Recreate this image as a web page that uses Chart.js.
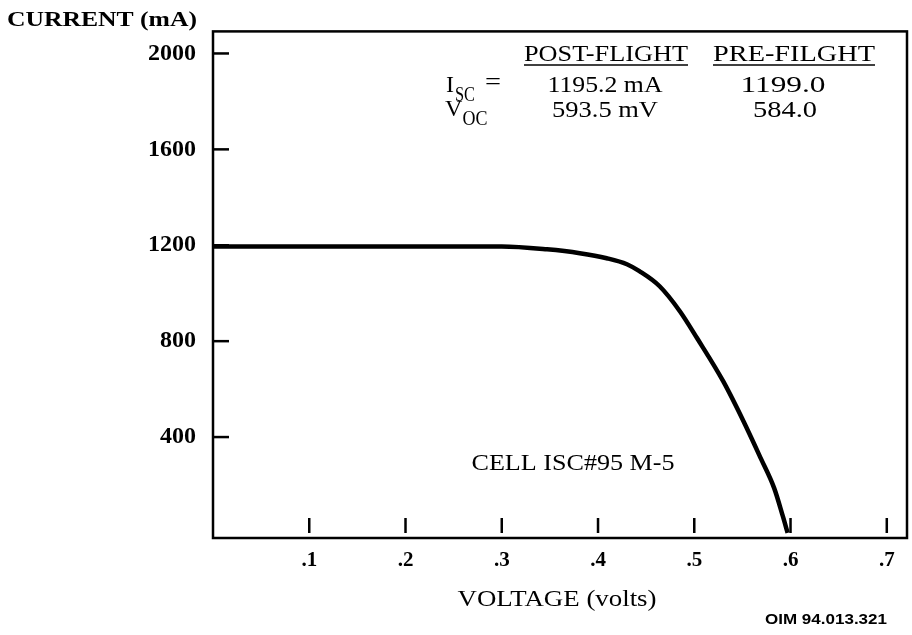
<!DOCTYPE html>
<html lang="en">
<head>
<meta charset="UTF-8">
<title>Cell ISC#95 M-5 I-V curve</title>
<script src="https://cdn.jsdelivr.net/npm/chart.js"></script>
<style>
  body { margin: 0; background: #fff; }
  canvas { display: block; }
</style>
</head>
<body>
<canvas id="ivChart" width="912" height="635"></canvas>
<script>
// data
var voltage = [0, 0.1, 0.2, 0.3, 0.347, 0.381, 0.409, 0.430, 0.443, 0.464, 0.485, 0.503, 0.530, 0.551, 0.569, 0.583, 0.592, 0.597];
var current = [1195, 1195, 1195, 1195, 1183, 1167, 1146, 1121, 1092, 1029, 925, 812, 633, 467, 312, 187, 70, 0];
var yTicks = [400, 800, 1200, 1600, 2000];
var xTicks = [0.1, 0.2, 0.3, 0.4, 0.5, 0.6, 0.7];
var tableHead = ['POST-FLIGHT', 'PRE-FILGHT'];
var iscRow = ['1195.2 mA', '1199.0'];
var vocRow = ['593.5 mV', '584.0'];

var serif = '"Liberation Serif", "DejaVu Serif", serif';

var points = voltage.map(function (v, i) { return { x: v, y: current[i] }; });

// draw text centred at cx, stretched/squeezed to a given width
function fitText(c, text, cx, cy, width) {
    var w = c.measureText(text).width;
    c.save();
    c.translate(cx, cy);
    c.scale(width / w, 1);
    c.textAlign = 'center';
    c.fillText(text, 0, 0);
    c.restore();
}

// box, inner tick marks and all free text
var decor = {
    id: 'decor',
    afterDraw: function (chart) {
        var c = chart.ctx, a = chart.chartArea;
        var xs = chart.scales.x, ys = chart.scales.y;
        c.save();
        c.strokeStyle = '#000';
        c.lineWidth = 2.5;
        c.strokeRect(a.left, a.top, a.right - a.left, a.bottom - a.top);

        yTicks.forEach(function (v) {
            var py = ys.getPixelForValue(v);
            c.beginPath(); c.moveTo(a.left, py); c.lineTo(a.left + 16, py); c.stroke();
        });
        xTicks.forEach(function (v) {
            var px = xs.getPixelForValue(v);
            c.beginPath(); c.moveTo(px, a.bottom - 20); c.lineTo(px, a.bottom - 5); c.stroke();
        });

        c.fillStyle = '#000';
        c.textBaseline = 'middle';

        c.font = 'bold 22px ' + serif;
        fitText(c, 'CURRENT (mA)', 102, 20, 190);

        // table
        c.font = '24px ' + serif;
        var heads = [[606, 164], [794, 162]];
        tableHead.forEach(function (t, i) {
            var cx = heads[i][0], w = heads[i][1];
            fitText(c, t, cx, 55, w);
            c.lineWidth = 1.4;
            c.beginPath(); c.moveTo(cx - w / 2, 65); c.lineTo(cx + w / 2, 65); c.stroke();
        });
        c.font = '23px ' + serif;
        fitText(c, iscRow[0], 605, 86, 115);
        fitText(c, iscRow[1], 783, 86, 85);
        fitText(c, vocRow[0], 605, 111, 106);
        fitText(c, vocRow[1], 785, 111, 64);

        c.textAlign = 'left';
        c.font = '24px ' + serif;
        c.fillText('I', 446, 86);
        c.fillText('V', 445, 110);
        c.font = '20px ' + serif;
        fitText(c, 'SC', 465, 96, 20);
        fitText(c, 'OC', 475, 120, 25);
        c.font = '24px ' + serif;
        fitText(c, '=', 493, 83, 16);

        c.font = '24px ' + serif;
        fitText(c, 'CELL ISC#95 M-5', 573, 464, 203);
        c.font = '23px ' + serif;
        fitText(c, 'VOLTAGE (volts)', 557, 600, 199);

        c.font = 'bold 14px "Liberation Sans", Arial, sans-serif';
        fitText(c, 'OIM 94.013.321', 826, 620, 122);
        c.restore();
    }
};

new Chart(document.getElementById('ivChart'), {
    type: 'scatter',
    data: {
        datasets: [{
            label: 'Cell ISC#95 M-5',
            data: points,
            showLine: true,
            borderColor: '#000',
            borderWidth: 4.5,
            pointRadius: 0,
            cubicInterpolationMode: 'monotone'
        }]
    },
    options: {
        responsive: false,
        animation: false,
        layout: { padding: { top: 30, right: 5, left: 0, bottom: 0 } },
        plugins: { legend: { display: false }, tooltip: { enabled: false } },
        scales: {
            x: {
                type: 'linear',
                min: 0,
                max: 0.721,
                afterFit: function (s) { s.height = 97; },
                afterBuildTicks: function (s) { s.ticks = xTicks.map(function (v) { return { value: v }; }); },
                grid: { drawOnChartArea: false, drawTicks: false },
                border: { display: false },
                ticks: {
                    padding: 10,
                    color: '#000',
                    font: { family: serif, size: 21, weight: 'bold' },
                    callback: function (v) { return String(v).replace(/^0/, ''); }
                }
            },
            y: {
                min: -21,
                max: 2092,
                afterFit: function (s) { s.width = 213; },
                afterBuildTicks: function (s) { s.ticks = yTicks.map(function (v) { return { value: v }; }); },
                grid: { drawOnChartArea: false, drawTicks: false },
                border: { display: false },
                ticks: {
                    padding: 17,
                    color: '#000',
                    font: { family: serif, size: 24, weight: 'bold' },
                    callback: function (v) { return String(v); }
                }
            }
        }
    },
    plugins: [decor]
});
</script>
</body>
</html>
